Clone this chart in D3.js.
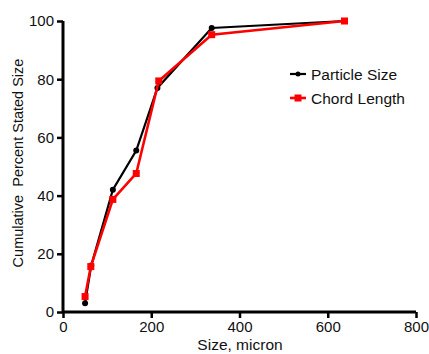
<!DOCTYPE html>
<html>
<head>
<meta charset="utf-8">
<script src="https://cdn.jsdelivr.net/npm/d3@7"></script>
<style>
  body { margin: 0; background: #fff; }
  svg { display: block; font-family: "Liberation Sans", Arial, sans-serif; }
</style>
</head>
<body>
<svg id="chart" width="429" height="354"></svg>
<script>
// size (micron) and cumulative percent
const particleX = [50, 64, 113, 166, 214, 337, 638];
const particleY = [3, 16, 42, 55.5, 77, 97.6, 100];
const chordX = [50, 63, 113, 166, 217, 337, 638];
const chordY = [5.3, 15.6, 38.7, 47.6, 79.4, 95.3, 100];
const xTicks = [0, 200, 400, 600, 800];
const yTicks = [0, 20, 40, 60, 80, 100];

const svg = d3.select("#chart");
const padL = 63, padR = 416, padT = 21, padB = 312;

const x = d3.scaleLinear().domain([0, 800]).range([padL, padR]);
const y = d3.scaleLinear().domain([0, 100]).range([padB, padT]);

// x axis
const xAxis = svg.append("g")
  .attr("transform", "translate(0," + padB + ")")
  .call(d3.axisBottom(x).tickValues(xTicks).tickSize(6).tickPadding(3));
xAxis.select(".domain").attr("stroke-width", 3).attr("d", "M" + padL + ",0H" + padR);
xAxis.selectAll(".tick line").attr("stroke-width", 2.5);
xAxis.selectAll("text").attr("font-size", 15).attr("font-family", "Liberation Sans, Arial, sans-serif").attr("fill", "#111");

// y axis
const yAxis = svg.append("g")
  .attr("transform", "translate(" + padL + ",0)")
  .call(d3.axisLeft(y).tickValues(yTicks).tickSize(6).tickPadding(3));
yAxis.select(".domain").attr("stroke-width", 3).attr("d", "M0," + padB + "V" + padT);
yAxis.selectAll(".tick line").attr("stroke-width", 2.5);
yAxis.selectAll("text").attr("font-size", 15).attr("font-family", "Liberation Sans, Arial, sans-serif").attr("fill", "#111");

// axis titles
svg.append("text")
  .attr("x", 240).attr("y", 349.5)
  .attr("text-anchor", "middle")
  .attr("font-size", 15.5).attr("fill", "#111")
  .text("Size, micron");

svg.append("text")
  .attr("transform", "translate(23,163) rotate(-90)")
  .attr("text-anchor", "middle")
  .attr("font-size", 14.5).attr("fill", "#111")
  .attr("xml:space", "preserve")
  .text("Cumulative  Percent Stated Size");

const line = d3.line().x(d => x(d[0])).y(d => y(d[1]));
const particle = d3.zip(particleX, particleY);
const chord = d3.zip(chordX, chordY);

// particle size (black)
svg.append("path").datum(particle)
  .attr("d", line).attr("fill", "none")
  .attr("stroke", "#000").attr("stroke-width", 2.2);
svg.selectAll(".pdot").data(particle).enter().append("circle")
  .attr("cx", d => x(d[0])).attr("cy", d => y(d[1])).attr("r", 3)
  .attr("fill", "#000");

// chord length (red)
svg.append("path").datum(chord)
  .attr("d", line).attr("fill", "none")
  .attr("stroke", "#f00").attr("stroke-width", 2.6);
svg.selectAll(".csq").data(chord).enter().append("rect")
  .attr("x", d => x(d[0]) - 3.5).attr("y", d => y(d[1]) - 3.5)
  .attr("width", 7).attr("height", 7)
  .attr("fill", "#f00");

// legend
const legend = [
  { name: "Particle Size", color: "#000", shape: "circle", yy: 74 },
  { name: "Chord Length", color: "#f00", shape: "square", yy: 98 }
];
legend.forEach(l => {
  svg.append("line")
    .attr("x1", 290).attr("x2", 306).attr("y1", l.yy).attr("y2", l.yy)
    .attr("stroke", l.color).attr("stroke-width", l.shape === "circle" ? 2.2 : 2.6);
  if (l.shape === "circle") {
    svg.append("circle").attr("cx", 298).attr("cy", l.yy).attr("r", 2.5).attr("fill", l.color);
  } else {
    svg.append("rect").attr("x", 294.5).attr("y", l.yy - 3.5).attr("width", 7).attr("height", 7).attr("fill", l.color);
  }
  svg.append("text")
    .attr("x", 311).attr("y", l.yy + 5.5)
    .attr("font-size", 15.5).attr("fill", "#111")
    .text(l.name);
});
</script>
</body>
</html>
